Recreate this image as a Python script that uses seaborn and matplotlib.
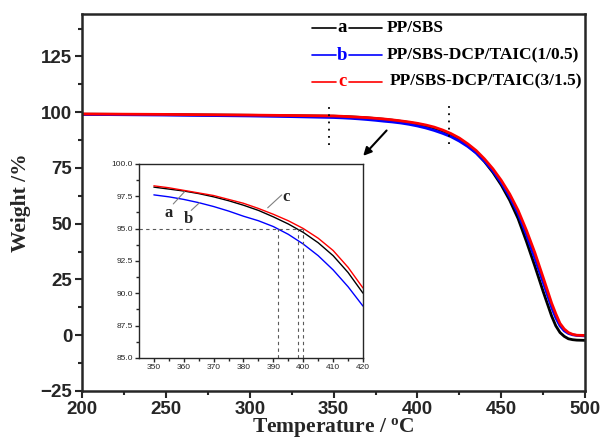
import numpy as np
import pandas as pd
import matplotlib
matplotlib.use("Agg")
import matplotlib.pyplot as plt
import seaborn as sns

# temperature grid (deg C) shared by all three TGA curves
temps = [200, 250, 300, 325, 350, 355, 360, 365, 370, 375, 380, 385, 390, 395,
         400, 405, 410, 415, 420, 425, 430, 435, 440, 445, 450, 455, 460, 465,
         470, 475, 480, 482.5, 485, 487.5, 490, 492.5, 495, 500]

# weight (%)
w_a = [99.1, 98.9, 98.6, 98.4, 98.2, 98.05, 97.9, 97.7, 97.45, 97.15, 96.8, 96.4, 95.9, 95.35,
       94.7, 93.9, 92.9, 91.6, 90.0, 87.8, 85.0, 81.8, 77.8, 73.0, 67.3, 60.5, 52.3, 42.0,
       31.0, 19.5, 8.6, 4.2, 1.2, -0.5, -1.6, -2.0, -2.2, -2.3]
w_b = [99.0, 98.7, 98.3, 98.0, 97.6, 97.45, 97.25, 97.0, 96.7, 96.35, 95.95, 95.6, 95.15, 94.55,
       93.8, 92.9, 91.8, 90.5, 89.0, 87.0, 84.6, 81.7, 78.0, 73.6, 68.3, 62.0, 54.5, 45.0,
       34.5, 23.6, 12.5, 7.8, 4.2, 2.0, 0.8, 0.2, -0.1, -0.3]
w_c = [99.2, 99.0, 98.7, 98.5, 98.3, 98.15, 97.95, 97.75, 97.55, 97.25, 96.95, 96.55, 96.1, 95.6,
       95.0, 94.25, 93.3, 92.0, 90.4, 88.4, 85.8, 82.8, 79.0, 74.6, 69.4, 63.3, 56.0, 47.0,
       37.0, 25.8, 14.4, 9.6, 5.3, 2.8, 1.2, 0.4, 0.0, -0.1]

names = ["a", "b", "c"]
labels = ["PP/SBS", "PP/SBS-DCP/TAIC(1/0.5)", "PP/SBS-DCP/TAIC(3/1.5)"]
colors = ["black", "blue", "red"]

# T at which each curve reaches 95 %
t95 = [398.2, 391.5, 399.9]

df = pd.concat([pd.DataFrame({"T": temps, "W": w, "s": n})
                for n, w in zip(names, [w_a, w_b, w_c])], ignore_index=True)

sns.set_style("ticks")
plt.rcParams["font.family"] = ["Liberation Sans", "DejaVu Sans"]
plt.rcParams["font.weight"] = "bold"
plt.rcParams["mathtext.fontset"] = "custom"

serif = ["Liberation Serif", "DejaVu Serif"]
pal = dict(zip(names, colors))

fig = plt.figure(figsize=(6.04, 4.44), dpi=100)
ax = fig.add_axes([0.136, 0.1194, 0.8328, 0.849])
sns.lineplot(data=df, x="T", y="W", hue="s", palette=pal, lw=2.0, ax=ax,
             legend=False, sort=False)
ax.set_xlim(200, 500)
ax.set_ylim(-25, 144)
ax.set_xticks([200, 250, 300, 350, 400, 450, 500])
ax.set_xticks([225, 275, 325, 375, 425, 475], minor=True)
ax.set_yticks([-25, 0, 25, 50, 75, 100, 125])
ax.set_yticks([-12.5, 12.5, 37.5, 62.5, 87.5, 112.5, 137.5], minor=True)
ax.tick_params(which="major", direction="out", length=5, width=1.5, labelsize=13.5, pad=2)
ax.tick_params(which="minor", direction="out", length=3, width=1.5)
for lab in ax.get_xticklabels() + ax.get_yticklabels():
    lab.set_fontweight("bold")
for sp in ax.spines.values():
    sp.set_visible(True)
    sp.set_linewidth(1.8)
ax.set_xlabel(r"Temperature / $\mathregular{^o}$C", fontsize=15.5, fontweight="bold",
              family=serif, labelpad=-1)
ax.set_ylabel("Weight /%", fontsize=15.5, fontweight="bold", family=serif, labelpad=7)

# dotted markers for the zoomed range
for t, y0, y1 in [(347.5, 85.2, 103.1), (418.5, 85.9, 103.9)]:
    ax.plot([t, t], [y0, y1], color="black", ls=(0, (1, 3)), lw=1.3)
ax.annotate("", xy=(366.5, 79.5), xytext=(382.7, 92.7),
            arrowprops=dict(arrowstyle="-|>", color="black", lw=1.5, mutation_scale=12))

# hand-made legend: line with the letter on it, then the label
rows = [0.963, 0.891, 0.820]
for n, lab, c, yy in zip(names, labels, colors, rows):
    ax.plot([0.457, 0.505], [yy, yy], color=c, lw=1.2, transform=ax.transAxes)
    ax.plot([0.530, 0.596], [yy, yy], color=c, lw=1.2, transform=ax.transAxes)
    ax.text(0.517, yy, n, color=c, transform=ax.transAxes, ha="center", va="center",
            fontsize=13.5, fontweight="bold", family=serif)
    ax.text(0.605 if n != "c" else 0.612, yy, lab, color="black", transform=ax.transAxes,
            ha="left", va="center", fontsize=12.5, fontweight="bold", family=serif)

# inset
ins = fig.add_axes([0.230, 0.194, 0.371, 0.437])
sub = df[df["T"].between(350, 420)]
sns.lineplot(data=sub, x="T", y="W", hue="s", palette=pal, lw=1.0, ax=ins,
             legend=False, sort=False)
ins.set_xlim(345, 420)
ins.set_ylim(85, 100)
ins.set_xticks([350, 360, 370, 380, 390, 400, 410, 420])
ins.set_xticks([355, 365, 375, 385, 395, 405, 415], minor=True)
ins.set_yticks([85, 87.5, 90, 92.5, 95, 97.5, 100])
ins.set_yticks([86.25, 88.75, 91.25, 93.75, 96.25, 98.75], minor=True)
ins.set_yticklabels(["85.0", "87.5", "90.0", "92.5", "95.0", "97.5", "100.0"])
ins.tick_params(which="major", direction="out", length=3, width=1.0, labelsize=6, pad=1.5)
ins.tick_params(which="minor", direction="out", length=2, width=1.0)
for lab in ins.get_xticklabels() + ins.get_yticklabels():
    lab.set_fontweight("normal")
for sp in ins.spines.values():
    sp.set_visible(True)
    sp.set_linewidth(1.0)
ins.set_xlabel("")
ins.set_ylabel("")

ins.plot([345, max(t95)], [95, 95], color="0.35", ls=(0, (3, 3)), lw=0.8)
for t in t95:
    ins.plot([t, t], [85, 95], color="0.35", ls=(0, (3, 3)), lw=0.8)

# letter callouts
for n, txy, p0, p1 in [("a", (355.0, 96.2), (356.5, 96.9), (360.3, 97.85)),
                       ("b", (361.4, 95.7), (362.5, 96.4), (365.3, 97.0)),
                       ("c", (394.4, 97.4), (392.8, 97.6), (388.1, 96.6))]:
    ins.plot([p0[0], p1[0]], [p0[1], p1[1]], color="0.5", lw=0.8)
    ins.text(txy[0], txy[1], n, ha="center", va="center", fontsize=12,
             fontweight="bold", family=serif)

fig.savefig("out.png", dpi=100)
